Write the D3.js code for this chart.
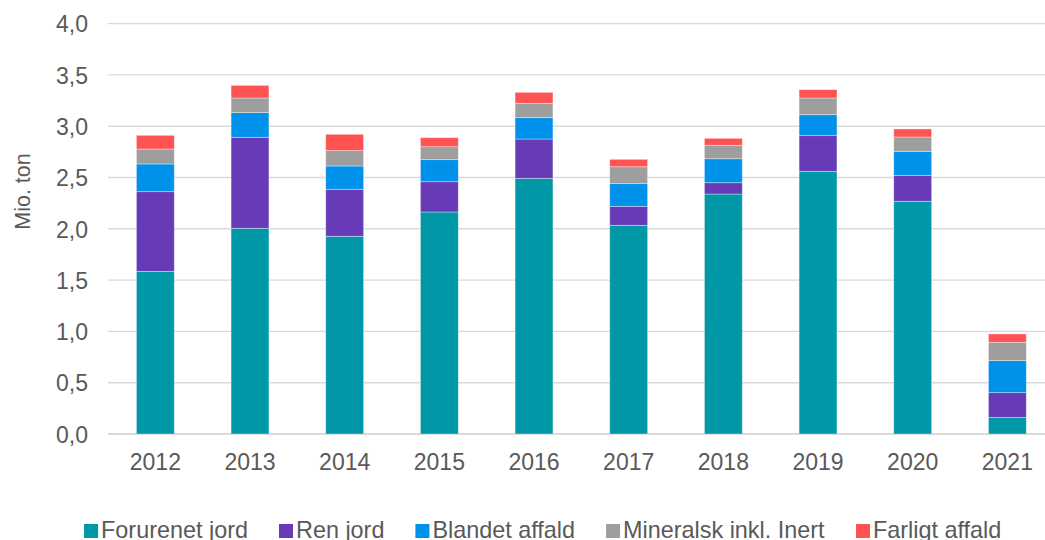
<!DOCTYPE html>
<html lang="da">
<head>
<meta charset="UTF-8">
<title>Mio. ton</title>
<script src="https://d3js.org/d3.v7.min.js"></script>
<style>
  body { margin: 0; background: #fff; }
  svg text { font-family: "Liberation Sans", Arial, sans-serif; fill: #595959; }
</style>
</head>
<body>
<div id="chart"></div>
<script>
// data (Mio. ton)
const years = ["2012","2013","2014","2015","2016","2017","2018","2019","2020","2021"];
const forurenetJord = [1.585, 2.005, 1.927, 2.164, 2.492, 2.034, 2.339, 2.560, 2.268, 0.162];
const renJord       = [0.777, 0.887, 0.458, 0.295, 0.383, 0.185, 0.110, 0.348, 0.253, 0.241];
const blandetAffald = [0.270, 0.240, 0.227, 0.215, 0.208, 0.221, 0.234, 0.204, 0.234, 0.312];
const mineralsk     = [0.146, 0.143, 0.150, 0.126, 0.140, 0.165, 0.131, 0.163, 0.140, 0.179];
const farligtAffald = [0.133, 0.123, 0.159, 0.088, 0.107, 0.072, 0.068, 0.081, 0.078, 0.081];
const seriesNames = ["Forurenet jord","Ren jord","Blandet affald","Mineralsk inkl. Inert","Farligt affald"];
const yTicks = [0, 0.5, 1, 1.5, 2, 2.5, 3, 3.5, 4];

const colors = ["#0097a7", "#673ab7", "#0091ea", "#9e9e9e", "#ff5252"];
const keys = ["f", "r", "b", "m", "h"];

const rows = years.map((y, i) => ({
  year: y, f: forurenetJord[i], r: renJord[i], b: blandetAffald[i], m: mineralsk[i], h: farligtAffald[i]
}));

const W = 1045, H = 540;
const svg = d3.select("#chart").append("svg").attr("width", W).attr("height", H);

// scales
const x = d3.scaleBand().domain(years).range([108, 1054.7]).paddingInner(0.6).paddingOuter(0.3);
const y = d3.scaleLinear().domain([0, 4]).range([434, 23.6]);

// gridlines
svg.append("g")
  .selectAll("line")
  .data(yTicks)
  .join("line")
  .attr("x1", 108).attr("x2", W)
  .attr("y1", d => y(d)).attr("y2", d => y(d))
  .attr("stroke", "#d9d9d9")
  .attr("stroke-width", d => d === 0 ? 2 : 1.4);

// y axis labels
svg.append("g")
  .attr("transform", "translate(104,0)")
  .call(d3.axisLeft(y).tickValues(yTicks).tickSize(0).tickPadding(16)
    .tickFormat(d => d3.format(".1f")(d).replace(".", ",")))
  .call(g => g.select(".domain").remove())
  .call(g => g.selectAll("text").attr("font-size", 23).attr("fill", "#595959")
    .attr("dy", "0.36em")
    .style("font-family", "'Liberation Sans', Arial, sans-serif"));

// y title
svg.append("text")
  .attr("transform", "translate(29.5,191.5) rotate(-90)")
  .attr("text-anchor", "middle")
  .attr("font-size", 21.5)
  .text("Mio. ton");

// stacked bars
const stacked = d3.stack().keys(keys)(rows);
svg.append("g")
  .selectAll("g")
  .data(stacked)
  .join("g")
  .attr("fill", (d, i) => colors[i])
  .selectAll("rect")
  .data(d => d)
  .join("rect")
  .attr("x", d => x(d.data.year))
  .attr("width", x.bandwidth())
  .attr("y", d => y(d[1]))
  .attr("height", d => y(d[0]) - y(d[1]))
  .attr("stroke", "#ffffff")
  .attr("stroke-opacity", 0.45)
  .attr("stroke-width", 0.8);

// x axis labels
svg.append("g")
  .attr("transform", "translate(0,434)")
  .call(d3.axisBottom(x).tickSize(0).tickPadding(20))
  .call(g => g.select(".domain").remove())
  .call(g => g.selectAll("text").attr("font-size", 23).attr("fill", "#595959")
    .style("font-family", "'Liberation Sans', Arial, sans-serif"));

// legend
const legend = svg.append("g");
const items = legend.selectAll("g")
  .data(seriesNames)
  .join("g");
items.append("rect")
  .attr("width", 14).attr("height", 14)
  .attr("y", 524)
  .attr("fill", (d, i) => colors[i]);
items.append("text")
  .attr("x", 17)
  .attr("y", 537.5)
  .attr("font-size", 23.4)
  .text(d => d);
let offs = 0;
const gap = 31;
items.each(function() {
  const w = this.getBBox().width;
  d3.select(this).attr("transform", `translate(${offs},0)`);
  offs += w + gap;
});
const total = offs - gap;
legend.attr("transform", `translate(${542.7 - total / 2},0)`);
</script>
</body>
</html>
